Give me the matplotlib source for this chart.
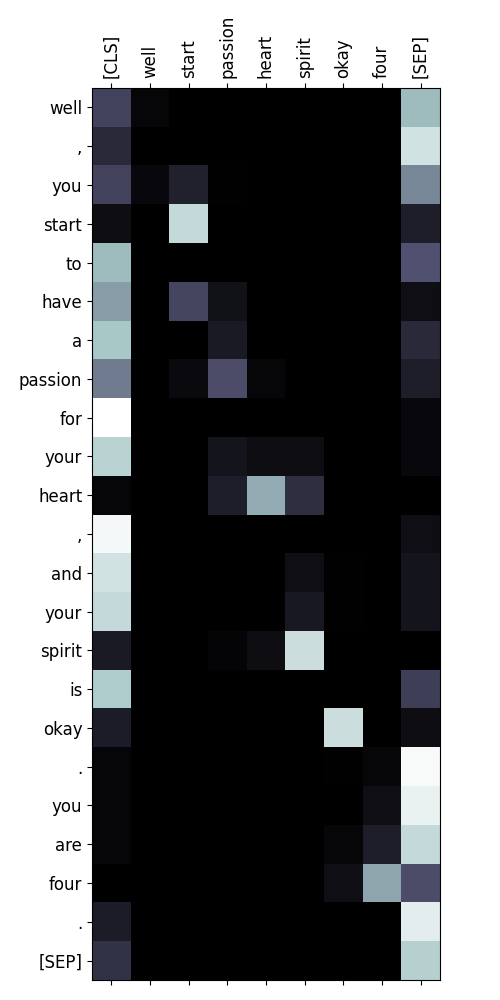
import numpy as np
import matplotlib
matplotlib.use("Agg")
import matplotlib.pyplot as plt

# ── Tokens ─────────────────────────────────────────────────────────────────
COL_TOKENS = ["[CLS]", "well", "start", "passion", "heart", "spirit", "okay", "four", "[SEP]"]
ROW_TOKENS = ["well", ",", "you", "start", "to", "have", "a", "passion", "for", "your",
              "heart", ",", "and", "your", "spirit", "is", "okay", ".", "you", "are",
              "four", ".", "[SEP]"]

# ── Attention weights (rows = ROW_TOKENS, cols = COL_TOKENS) ───────────────
r_well    = [0.30, 0.03, 0.00, 0.00, 0.00, 0.00, 0.00, 0.00, 0.71]
r_comma1  = [0.19, 0.00, 0.00, 0.00, 0.00, 0.00, 0.00, 0.00, 0.87]
r_you1    = [0.30, 0.04, 0.15, 0.01, 0.00, 0.00, 0.00, 0.00, 0.54]
r_start   = [0.06, 0.00, 0.83, 0.00, 0.00, 0.00, 0.00, 0.00, 0.14]
r_to      = [0.71, 0.00, 0.00, 0.00, 0.00, 0.00, 0.00, 0.00, 0.36]
r_have    = [0.61, 0.00, 0.31, 0.08, 0.00, 0.00, 0.00, 0.00, 0.07]
r_a       = [0.75, 0.00, 0.00, 0.12, 0.00, 0.00, 0.00, 0.00, 0.19]
r_passion = [0.50, 0.00, 0.05, 0.34, 0.03, 0.00, 0.00, 0.00, 0.14]
r_for     = [1.00, 0.00, 0.00, 0.00, 0.00, 0.00, 0.00, 0.00, 0.04]
r_your1   = [0.80, 0.00, 0.00, 0.09, 0.06, 0.06, 0.00, 0.00, 0.04]
r_heart   = [0.03, 0.00, 0.00, 0.14, 0.66, 0.21, 0.00, 0.00, 0.00]
r_comma2  = [0.97, 0.00, 0.00, 0.00, 0.00, 0.00, 0.00, 0.00, 0.07]
r_and     = [0.87, 0.00, 0.00, 0.00, 0.00, 0.07, 0.01, 0.00, 0.09]
r_your2   = [0.83, 0.00, 0.00, 0.00, 0.00, 0.11, 0.01, 0.00, 0.09]
r_spirit  = [0.12, 0.00, 0.00, 0.02, 0.06, 0.85, 0.00, 0.00, 0.00]
r_is      = [0.77, 0.00, 0.00, 0.00, 0.00, 0.00, 0.00, 0.00, 0.28]
r_okay    = [0.13, 0.00, 0.00, 0.00, 0.00, 0.00, 0.85, 0.00, 0.06]
r_dot1    = [0.03, 0.00, 0.00, 0.00, 0.00, 0.00, 0.01, 0.03, 0.98]
r_you2    = [0.03, 0.00, 0.00, 0.00, 0.00, 0.00, 0.00, 0.07, 0.94]
r_are     = [0.03, 0.00, 0.00, 0.00, 0.00, 0.00, 0.03, 0.14, 0.83]
r_four    = [0.00, 0.00, 0.00, 0.00, 0.00, 0.00, 0.07, 0.64, 0.34]
r_dot2    = [0.13, 0.00, 0.00, 0.00, 0.00, 0.00, 0.00, 0.00, 0.92]
r_sep     = [0.23, 0.00, 0.00, 0.00, 0.00, 0.00, 0.00, 0.00, 0.79]

attn = np.array([r_well, r_comma1, r_you1, r_start, r_to, r_have, r_a, r_passion,
                 r_for, r_your1, r_heart, r_comma2, r_and, r_your2, r_spirit, r_is,
                 r_okay, r_dot1, r_you2, r_are, r_four, r_dot2, r_sep])

# ── Plot ───────────────────────────────────────────────────────────────────
fig = plt.figure(figsize=(5, 10), dpi=100)
ax = fig.add_axes([0.184, 0.02, 0.696, 0.892])

ax.imshow(attn, cmap="bone", vmin=0, vmax=1, aspect="auto", interpolation="nearest")

ax.set_xticks(range(len(COL_TOKENS)))
ax.set_xticklabels(COL_TOKENS, rotation=90, fontsize=12)
ax.set_yticks(range(len(ROW_TOKENS)))
ax.set_yticklabels(ROW_TOKENS, fontsize=12)
ax.tick_params(axis="x", top=True, labeltop=True, bottom=True, labelbottom=False)

fig.savefig("out.png", dpi=100)
